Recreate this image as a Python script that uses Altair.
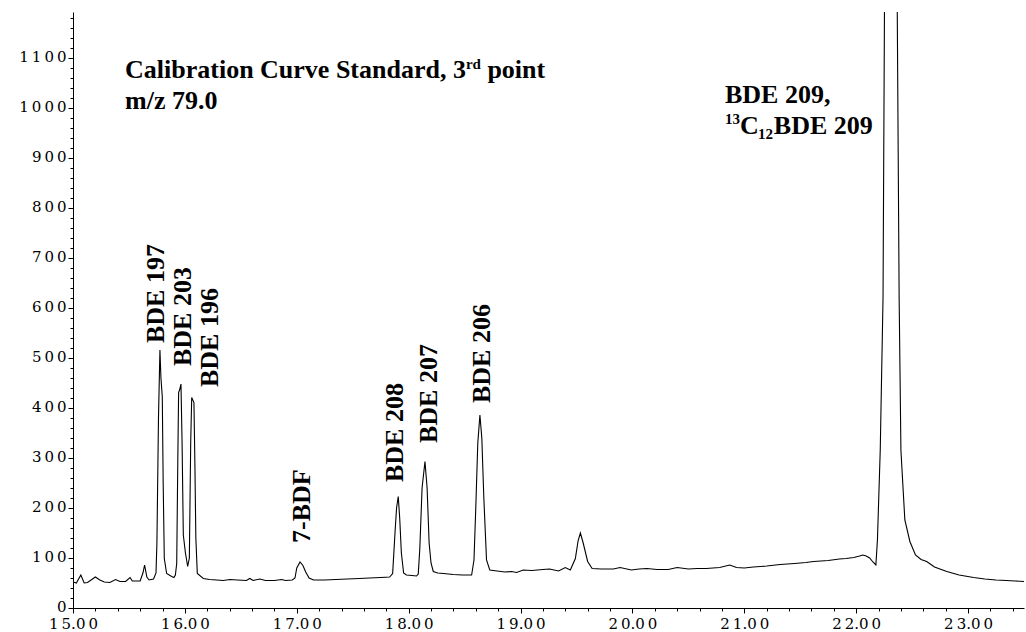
import altair as alt
import pandas as pd

# Retention time (min) and abundance
time = [15.00, 15.03, 15.07, 15.10, 15.13, 15.20, 15.24, 15.28, 15.33, 15.38,
        15.42, 15.47, 15.51, 15.53, 15.60, 15.625, 15.64, 15.66, 15.68, 15.72,
        15.742, 15.750, 15.764, 15.777, 15.786, 15.798, 15.806, 15.816, 15.837, 15.882,
        15.902, 15.915, 15.927, 15.937, 15.944, 15.955, 15.965, 15.975, 15.986, 16.005,
        16.025, 16.040, 16.052, 16.061, 16.081, 16.090, 16.098, 16.111, 16.165, 16.22,
        16.284, 16.343, 16.402, 16.47, 16.55, 16.58, 16.61, 16.67, 16.72, 16.80,
        16.865, 16.90, 16.96, 16.984, 17.00, 17.029, 17.055, 17.08, 17.11, 17.15,
        17.25, 17.35, 17.45, 17.56, 17.65, 17.75, 17.83, 17.857, 17.878, 17.892,
        17.907, 17.920, 17.935, 17.955, 17.98, 18.03, 18.07, 18.086, 18.10, 18.12,
        18.146, 18.165, 18.183, 18.20, 18.22, 18.26, 18.31, 18.40, 18.48, 18.563,
        18.584, 18.600, 18.618, 18.637, 18.654, 18.672, 18.696, 18.725, 18.79, 18.86,
        18.92, 18.965, 19.024, 19.10, 19.20, 19.26, 19.34, 19.40, 19.445, 19.49,
        19.515, 19.535, 19.56, 19.60, 19.64, 19.72, 19.83, 19.89, 19.99, 20.06,
        20.13, 20.22, 20.32, 20.40, 20.50, 20.58, 20.66, 20.78, 20.87, 20.93,
        21.00, 21.08, 21.20, 21.32, 21.45, 21.55, 21.62, 21.75, 21.85, 21.91,
        21.98, 22.03, 22.06, 22.09, 22.12, 22.15, 22.176, 22.19, 22.215, 22.24,
        22.253, 22.31, 22.367, 22.384, 22.40, 22.435, 22.48, 22.53, 22.58, 22.63,
        22.70, 22.81, 22.92, 23.05, 23.15, 23.25, 23.34, 23.42, 23.50]

abundance = [52, 50, 66, 50, 51, 62, 56, 52, 51, 57,
             53, 53, 61, 54, 54, 70, 86, 62, 56, 58,
             70, 130, 380, 516, 460, 423, 250, 99, 69, 63,
             61, 66, 89, 300, 431, 438, 448, 330, 146, 110,
             83, 100, 330, 421, 411, 280, 140, 69, 59, 57,
             56, 55, 57, 56, 55, 59, 55, 58, 55, 55,
             57, 55, 56, 60, 80, 92, 85, 72, 60, 56,
             56, 57, 58, 59, 60, 61, 62, 69, 150, 200,
             223, 180, 110, 70, 66, 65, 64, 68, 120, 240,
             293, 240, 130, 90, 73, 70, 69, 67, 66, 66,
             96, 200, 330, 386, 340, 220, 96, 76, 74, 72,
             73, 71, 76, 75, 77, 78, 74, 81, 76, 99,
             135, 150, 130, 93, 79, 78, 78, 81, 76, 78,
             79, 77, 77, 81, 78, 79, 79, 81, 86, 81,
             80, 82, 84, 87, 89, 91, 93, 95, 98, 99,
             101, 104, 106, 104, 100, 92, 86, 136, 315, 620,
             1200, 2300, 1200, 620, 315, 176, 133, 106, 97, 93,
             82, 73, 66, 61, 58, 56, 55, 54, 53]

# Axis ticks
x_major = [15, 16, 17, 18, 19, 20, 21, 22, 23]
x_minor = [15.2, 15.4, 15.6, 15.8, 16.2, 16.4, 16.6, 16.8, 17.2, 17.4, 17.6, 17.8,
           18.2, 18.4, 18.6, 18.8, 19.2, 19.4, 19.6, 19.8, 20.2, 20.4, 20.6, 20.8,
           21.2, 21.4, 21.6, 21.8, 22.2, 22.4, 22.6, 22.8, 23.2, 23.4]
y_major = [0, 100, 200, 300, 400, 500, 600, 700, 800, 900, 1000, 1100]
y_minor = [v for v in range(0, 1200, 20) if v % 100 != 0]

# Peak labels (vertical): anchor at text start (bottom)
peak_labels = ["BDE 197", "BDE 203", "BDE 196", "7-BDF", "BDE 208", "BDE 207", "BDE 206"]
peak_label_t = [15.746, 15.987, 16.224, 17.051, 17.880, 18.179, 18.655]
peak_label_i = [530, 484, 442, 130, 252, 330, 410]

# Horizontal annotations (big)
big_text = ["Calibration Curve Standard, 3", "point", "m/z 79.0", "BDE 209,", "C", "BDE 209"]
big_t = [15.465, 18.704, 15.465, 20.827, 20.961, 21.264]
big_i = [1061, 1061, 999, 1011, 948, 948]

# Superscripts / subscripts (small)
small_text = ["rd", "13", "12"]
small_t = [18.512, 20.827, 21.122]
small_i = [1078, 969, 939]

X_DOM = [15, 23.5]
Y_DOM = [0, 1192]

df = pd.DataFrame({"t": time, "I": abundance})
df_peaks = pd.DataFrame({"t": peak_label_t, "I": peak_label_i, "label": peak_labels})
df_big = pd.DataFrame({"t": big_t, "I": big_i, "label": big_text})
df_small = pd.DataFrame({"t": small_t, "I": small_i, "label": small_text})

xs = alt.Scale(domain=X_DOM, nice=False, zero=False)
ys = alt.Scale(domain=Y_DOM, nice=False, zero=False)

# slightly widen digit spacing to mimic the extended typeface of the original labels
wide = "replace(datum.label, regexp('([0-9])(?=[0-9])', 'g'), '$1\u2009')"

line = alt.Chart(df).mark_line(color="black", strokeWidth=1.1, clip=True).encode(
    x=alt.X("t:Q", scale=xs, axis=alt.Axis(values=x_major, format=".2f", title=None,
                                           tickSize=5, labelPadding=3, labelFlush=False,
                                           labelOverlap=False, orient="bottom",
                                           labelExpr=wide)),
    y=alt.Y("I:Q", scale=ys, axis=alt.Axis(values=y_major, format="d", title=None,
                                           tickSize=5, labelPadding=2, labelFlush=False,
                                           labelOverlap=False, orient="left",
                                           labelOffset=-2, labelExpr=wide)),
)

minor = alt.Chart(df).mark_line(opacity=0, clip=True).encode(
    x=alt.X("t:Q", scale=xs, axis=alt.Axis(values=x_minor, labels=False, domain=False,
                                           title=None, tickSize=3, orient="bottom")),
    y=alt.Y("I:Q", scale=ys, axis=alt.Axis(values=y_minor, labels=False, domain=False,
                                           title=None, tickSize=3, orient="left")),
)

font = "Liberation Serif"

peaks = alt.Chart(df_peaks).mark_text(
    angle=270, align="left", baseline="middle", font=font, fontWeight="bold",
    fontSize=26, color="black"
).encode(
    x=alt.X("t:Q", scale=xs, axis=None),
    y=alt.Y("I:Q", scale=ys, axis=None),
    text="label:N",
)

big = alt.Chart(df_big).mark_text(
    align="left", baseline="alphabetic", font=font, fontWeight="bold",
    fontSize=26, color="black"
).encode(
    x=alt.X("t:Q", scale=xs, axis=None),
    y=alt.Y("I:Q", scale=ys, axis=None),
    text="label:N",
)

small = alt.Chart(df_small).mark_text(
    align="left", baseline="alphabetic", font=font, fontWeight="bold",
    fontSize=15, color="black"
).encode(
    x=alt.X("t:Q", scale=xs, axis=None),
    y=alt.Y("I:Q", scale=ys, axis=None),
    text="label:N",
)

chart = alt.layer(line, minor, peaks, big, small).resolve_axis(
    x="independent", y="independent"
).properties(
    width=951, height=596,
    autosize=alt.AutoSizeParams(type="none"),
    padding={"left": 73, "top": 12, "right": 2, "bottom": 24},
    background="white",
).configure_view(strokeWidth=0).configure_axis(
    labelFont="DejaVu Serif", labelFontSize=15, labelColor="black",
    tickColor="black", domainColor="black", tickWidth=1, domainWidth=1, grid=False,
)

chart.save("out.html", embed_options={"renderer": "svg", "actions": False})
